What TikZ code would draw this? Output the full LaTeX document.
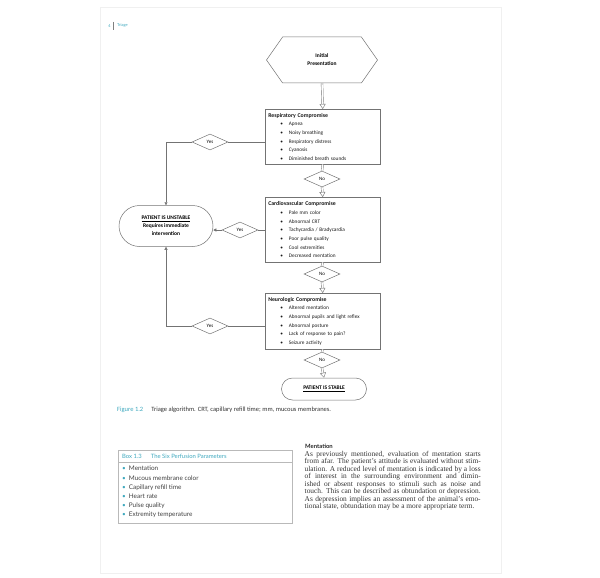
\documentclass[tikz,border=0pt]{standalone}
\usepackage{fontspec}
\setmainfont{Liberation Serif}
\newfontfamily\chartfont{Carlito}
\newfontfamily\boxfont{Lato}
\usetikzlibrary{shapes.geometric,shapes.misc,shapes.symbols,arrows.meta}
\definecolor{figcyan}{RGB}{62,168,190}
\definecolor{linegray}{gray}{0.45}
\tikzset{
  stepbox/.style={draw=linegray, line width=0.5pt, anchor=north west, text width=109pt, inner sep=3pt, align=left, text=black!90, font=\chartfont\fontsize{5.3}{8.7}\selectfont},
  choice/.style={draw=linegray, line width=0.5pt, diamond, minimum width=36pt, minimum height=16pt, inner sep=0pt, font=\chartfont\fontsize{5}{6}\selectfont},
  terminal/.style={draw=linegray, line width=0.5pt, rounded rectangle, inner sep=0pt, align=center, font=\chartfont\bfseries\fontsize{5.5}{8}\selectfont},
  hollow/.style={draw=linegray, line width=0.4pt, double, double distance=1.4pt, -{Triangle[open,length=5pt,width=6pt]}},
  link/.style={draw=linegray, line width=0.5pt},
  linkarrow/.style={link, -{Triangle[length=3pt,width=3pt]}},
}
\newcommand{\itm}[1]{\\\hspace*{12pt}\textbullet\hspace{6pt}#1}
\newcommand{\perfitem}[1]{{\color{figcyan}\textbullet}\hspace{3pt}#1}
\begin{document}
\begin{tikzpicture}[x=1pt,y=-1pt]
    \useasboundingbox (0,0) rectangle (600,578);
    % 紙面の枠
    \draw[gray!12, line width=0.8pt] (100,7) rectangle (501,573);

    % 柱
    \node[anchor=east, inner sep=0pt, text=figcyan, font=\boxfont\fontsize{4}{4}\selectfont] (pagenum) at (111,26) {4};
    \draw[gray, line width=0.9pt] (113,22) -- (113,30);
    \node[anchor=west, inner sep=0pt, text=figcyan, font=\boxfont\fontsize{4}{4}\selectfont] (runhead) at (117,25) {Triage};

    % 開始(六角形)
    \node[signal, signal to=west and east, signal pointer angle=110, draw=linegray, line width=0.5pt,
          minimum width=111pt, minimum height=46pt, inner sep=0pt, align=center,
          font=\chartfont\bfseries\fontsize{5.5}{8}\selectfont] (init) at (322,60) {Initial\\Presentation};

    % 評価の箱
    \node[stepbox, minimum height=55pt] (resp) at (265,109) {\textbf{\fontsize{5.8}{8.7}\selectfont Respiratory Compromise}
      \itm{Apnea}\itm{Noisy breathing}\itm{Respiratory distress}\itm{Cyanosis}\itm{Diminished breath sounds}};
    \node[stepbox, minimum height=65pt] (cardio) at (265,197) {\textbf{\fontsize{5.8}{8.7}\selectfont Cardiovascular Compromise}
      \itm{Pale mm color}\itm{Abnormal CRT}\itm{Tachycardia / Bradycardia}\itm{Poor pulse quality}\itm{Cool extremities}\itm{Decreased mentation}};
    \node[stepbox, minimum height=56pt] (neuro) at (265,293) {\textbf{\fontsize{5.8}{8.7}\selectfont Neurologic Compromise}
      \itm{Altered mentation}\itm{Abnormal pupils and light reflex}\itm{Abnormal posture}\itm{Lack of response to pain?}\itm{Seizure activity}};

    % 判断(ひし形)
    \node[choice] (no1) at (322,179) {No};
    \node[choice] (no2) at (322,274) {No};
    \node[choice] (no3) at (322,360) {No};
    \node[choice] (yes1) at (210,142) {Yes};
    \node[choice] (yes2) at (240,230) {Yes};
    \node[choice] (yes3) at (210,326) {Yes};

    % 結果
    \node[terminal, minimum width=94pt, minimum height=41pt] (unstable) at (166,226) {\underline{PATIENT IS UNSTABLE}\\Requires immediate\\intervention};
    \node[terminal, minimum width=85pt, minimum height=22pt] (stable) at (324,389) {\underline{PATIENT IS STABLE}};

    % 白抜き矢印
    \draw[hollow] (init.south) -- (resp.north);
    \draw[hollow, -] (resp.south) -- (no1.north);
    \draw[hollow] (no1.south) -- (cardio.north);
    \draw[hollow, -] (cardio.south) -- (no2.north);
    \draw[hollow] (no2.south) -- (neuro.north);
    \draw[hollow, -] (neuro.south) -- (no3.north);
    \draw[hollow] (no3.south) -- (stable.north);

    % Yesの線
    \draw[link] (yes1.east) -- (yes1.east -| resp.west);
    \draw[linkarrow] (yes1.west) -| (unstable.north);
    \draw[link] (yes2.east) -- (yes2.east -| cardio.west);
    \draw[linkarrow] (yes2.west) -- (yes2.west -| unstable.east);
    \draw[link] (yes3.east) -- (yes3.east -| neuro.west);
    \draw[linkarrow] (yes3.west) -| (unstable.south);

    % 図の説明
    \node[anchor=west, inner sep=0pt, font=\chartfont\fontsize{6.5}{7}\selectfont, text=black!80] (caption) at (117,410)
      {\textcolor{figcyan}{Figure 1.2}\hspace{8pt}Triage algorithm. CRT, capillary refill time; mm, mucous membranes.};

    % Box 1.3
    \node[draw=gray!55, line width=0.6pt, anchor=north west, minimum width=174pt, minimum height=73pt] (perfbox) at (118,450) {};
    \draw[gray!55, line width=0.6pt] (118,462) -- (292,462);
    \node[anchor=west, inner sep=0pt, text=figcyan, font=\boxfont\fontsize{5.9}{7}\selectfont] (perftitle) at (122,456)
      {Box 1.3\hspace{9pt}The Six Perfusion Parameters};
    \node[anchor=north west, inner sep=0pt, align=left, text=black!75, font=\boxfont\fontsize{6.4}{9.2}\selectfont] (perflist) at (122,466)
      {\perfitem{Mentation}\\\perfitem{Mucous membrane color}\\\perfitem{Capillary refill time}\\\perfitem{Heart rate}\\\perfitem{Pulse quality}\\\perfitem{Extremity temperature}};

    % 本文
    \node[anchor=west, inner sep=0pt, font=\boxfont\bfseries\fontsize{5.9}{7}\selectfont, text=black!85] (menttitle) at (305,446) {Mentation};
    \node[anchor=north west, inner sep=0pt, text width=176pt, align=justify, text=black!80, font=\fontsize{7.4}{7.45}\selectfont] (mentbody) at (304.5,451)
      {As previously mentioned, evaluation of mentation starts\linebreak
       from afar. The patient’s attitude is evaluated without stim-\linebreak
       ulation. A reduced level of mentation is indicated by a loss\linebreak
       of interest in the surrounding environment and dimin-\linebreak
       ished or absent responses to stimuli such as noise and\linebreak
       touch. This can be described as obtundation or depression.\linebreak
       As depression implies an assessment of the animal’s emo-\linebreak
       tional state, obtundation may be a more appropriate term.};
\end{tikzpicture}
\end{document}
